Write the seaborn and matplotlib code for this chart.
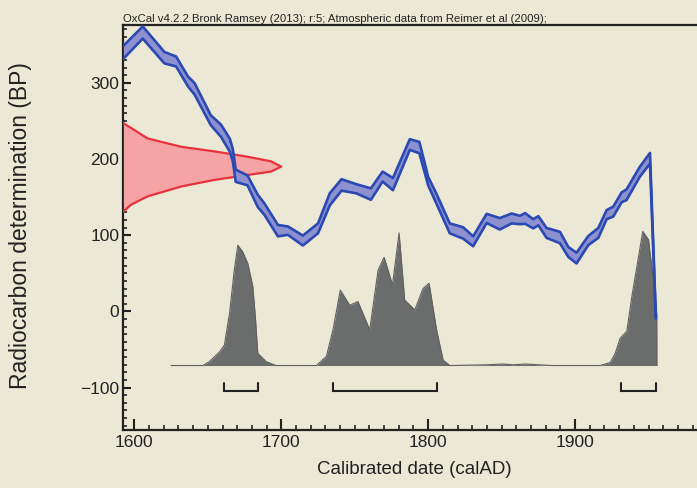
import numpy as np
import pandas as pd
import matplotlib
matplotlib.use('Agg')
import matplotlib.pyplot as plt
from matplotlib.ticker import MultipleLocator
import seaborn as sns

# calibration curve (IntCal): year, BP centre, half-width
cal_year = [1592.5, 1605.7, 1620.4, 1628.4, 1636.4, 1641, 1652, 1659, 1665, 1667, 1669,
            1677, 1684, 1688.6, 1697.7, 1704.5, 1714.7, 1725, 1733, 1741, 1751, 1761,
            1769, 1776, 1787.5, 1794, 1800, 1805.6, 1814.7, 1823.8, 1830.6, 1839.8,
            1848.8, 1856.8, 1862.4, 1866, 1871.5, 1875, 1880.6, 1889.7, 1895.4, 1901,
            1909, 1915.8, 1921.5, 1926, 1931.8, 1935, 1944, 1951, 1955]
cal_bp = [340, 366, 333, 328, 302, 292, 251, 237, 218, 205, 178,
          172, 145, 134, 106, 106, 93, 109, 147, 166, 161, 154,
          177, 167, 219, 215, 171, 148, 109, 103, 92, 122,
          115, 122, 120, 122, 115, 119, 103, 97, 78, 70,
          93, 103, 127, 131, 150, 153, 183, 201, -9]
cal_err = [8.5, 8, 7.5, 6.5, 6.5, 7.5, 6.5, 8, 8.5, 8, 8,
           6.5, 8, 7.5, 7.5, 5.5, 6.5, 6.5, 8, 7.5, 6, 7.5,
           6.5, 8, 7, 7.5, 5.5, 6.5, 6.5, 7.5, 6.5, 6,
           7.5, 6.5, 5.5, 7, 6, 6, 6.5, 7.5, 6.5, 7,
           6, 6.5, 6, 6.5, 6.5, 7, 6.5, 7, 0]

# radiocarbon measurement profile (red), BP level -> year reached
rc_bp = [247, 238, 227, 216, 210, 203, 197, 190, 183.5, 179, 172.6, 164, 151, 140, 131]
rc_year = [1592.5, 1600, 1609, 1632, 1654.5, 1677, 1693, 1700, 1693, 1677, 1654.5,
           1632, 1609, 1597.7, 1592.5]

# calibrated probability (grey), outline in BP units
post_year = [1625, 1646.6, 1651, 1658, 1661.3, 1664.8, 1668, 1670.4, 1673.8, 1677.2,
             1680.6, 1682.5, 1684, 1689.8, 1696.6, 1723.9, 1730.7, 1735.2, 1740.2,
             1746.6, 1752.2, 1760.2, 1765.9, 1770, 1775.7, 1780.2, 1784, 1790.9,
             1796.5, 1800.6, 1805.7, 1810.2, 1814.7, 1840, 1850, 1858, 1866, 1875,
             1885, 1917, 1924, 1927.3, 1930.7, 1935.2, 1938.6, 1943.2, 1946.1, 1950,
             1953.3, 1955.6, 1955.7]
post_bp = [-71, -71, -66, -53, -44, -2, 54, 87, 78, 63,
           33, -11, -55, -66, -71, -71, -59, -24, 28,
           8, 13, -24, 54, 71, 35, 103, 15, 2,
           30, 37, -24, -64, -71, -70, -69, -70, -69, -70,
           -71, -71, -67, -55, -35, -26, 19, 72, 105, 94,
           41, -3, -71]
post_base = -71

# 95% ranges
range_lo = [1661, 1735, 1931]
range_hi = [1684, 1806, 1955]

title = "OxCal v4.2.2 Bronk Ramsey (2013); r:5; Atmospheric data from Reimer et al (2009);"

bg = '#ECE8D6'
ink = '#222222'
sns.set_theme(style='ticks')
plt.rcParams['font.family'] = ['Liberation Sans', 'DejaVu Sans']

fig = plt.figure(figsize=(6.97, 4.88), dpi=100, facecolor=bg)
ax = fig.add_axes([0.177, 0.119, 0.823, 0.830], facecolor=bg)

curve = pd.DataFrame({'year': cal_year, 'bp': cal_bp, 'err': cal_err})
curve['hi'] = curve['bp'] + curve['err']
curve['lo'] = curve['bp'] - curve['err']

post = pd.DataFrame({'year': post_year, 'bp': post_bp})
rc = pd.DataFrame({'year': rc_year, 'bp': rc_bp})

# grey posterior
ax.fill_between(post['year'], post_base, post['bp'], color='#6b6d6d', lw=0, zorder=2)
sns.lineplot(data=post, x='year', y='bp', ax=ax, color='#5f6161', lw=0.8,
             sort=False, estimator=None, zorder=2)

# red measurement
x0 = 1592.5
ax.fill_betweenx(rc['bp'], x0, rc['year'], color='#F5A3A5', lw=0, zorder=3)
sns.lineplot(data=rc, x='year', y='bp', ax=ax, color='#E8323E', lw=1.6,
             sort=False, estimator=None, zorder=4)

# blue calibration band
ax.fill_between(curve['year'], curve['lo'], curve['hi'], color='#8E91D0', lw=0, zorder=5)
for col in ['hi', 'lo']:
    sns.lineplot(data=curve, x='year', y=col, ax=ax, color='#2B49B3', lw=1.9,
                 sort=False, estimator=None, zorder=6)

# range brackets
for lo, hi in zip(range_lo, range_hi):
    ax.plot([lo, lo, hi, hi], [-94, -104, -104, -94], color=ink, lw=1.5,
            solid_joinstyle='miter', zorder=3)

ax.set_xlim(1592.5, 1983)
ax.set_ylim(-155.5, 376)
ax.xaxis.set_major_locator(MultipleLocator(100))
ax.xaxis.set_minor_locator(MultipleLocator(10))
ax.yaxis.set_major_locator(MultipleLocator(100))
ax.yaxis.set_minor_locator(MultipleLocator(10))
ax.tick_params(axis='x', which='major', direction='in', length=8, width=1.5,
               labelsize=12.5, pad=4, color=ink, labelcolor=ink)
ax.tick_params(axis='x', which='minor', direction='in', length=3.5, width=1.2, color=ink)
ax.tick_params(axis='y', which='major', direction='in', length=5.5, width=1.5,
               labelsize=12.5, pad=3, color=ink, labelcolor=ink)
ax.tick_params(axis='y', which='minor', direction='in', length=3, width=1.2, color=ink)

for side in ['left', 'bottom', 'top']:
    ax.spines[side].set_linewidth(1.6)
    ax.spines[side].set_color(ink)
ax.spines['right'].set_visible(False)

ax.set_xlabel('Calibrated date (calAD)', fontsize=13.5, color=ink)
ax.set_ylabel('Radiocarbon determination (BP)', fontsize=16.5, color=ink)
ax.xaxis.set_label_coords(0.507, -0.077)
ax.yaxis.set_label_coords(-0.16, 0.505)

ax.text(0.0, 1.003, title, transform=ax.transAxes, fontsize=8.2, ha='left',
        va='bottom', color=ink)

fig.savefig('out.png', dpi=100, facecolor=bg)
